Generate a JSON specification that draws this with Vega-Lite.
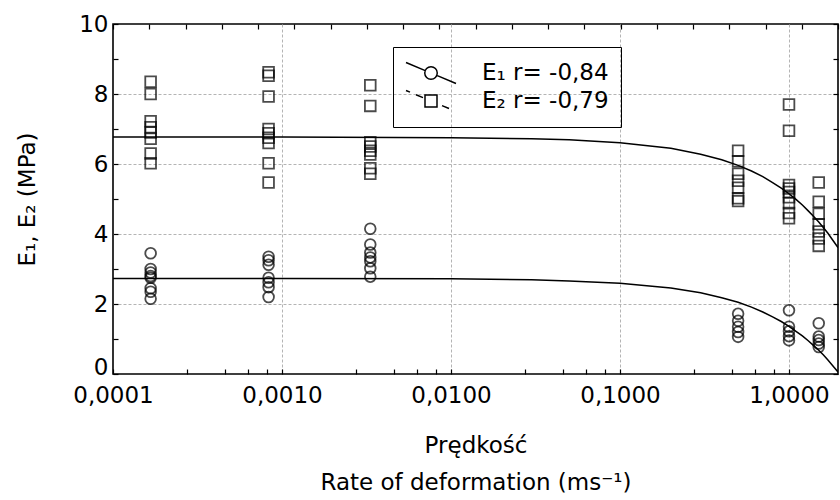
{
  "$schema": "https://vega.github.io/schema/vega-lite/v6.json",
  "width": 725,
  "height": 350,
  "autosize": "none",
  "padding": {"left": 113, "top": 24, "right": 2, "bottom": 126},
  "background": "white",
  "config": {
    "font": "DejaVu Sans",
    "view": {"stroke": "black", "strokeWidth": 1.6},
    "axis": {
      "domain": false,
      "tickColor": "black",
      "tickSize": 5,
      "tickWidth": 1.2,
      "labelColor": "black",
      "labelFont": "DejaVu Sans",
      "labelFontSize": 23,
      "labelOverlap": false,
      "labelFlush": false,
      "titleFont": "DejaVu Sans",
      "titleFontSize": 23,
      "titleFontWeight": "normal",
      "titleColor": "black",
      "gridColor": "#b4b4b4",
      "gridDash": [3, 2],
      "gridWidth": 1
    }
  },
  "datasets": {
    "fit": [
      {"x": 0.0001, "E": 2.73, "s": "E1"}, {"x": 0.001, "E": 2.73, "s": "E1"}, {"x": 0.01, "E": 2.72, "s": "E1"},
      {"x": 0.03, "E": 2.69, "s": "E1"}, {"x": 0.05, "E": 2.66, "s": "E1"}, {"x": 0.1, "E": 2.59, "s": "E1"},
      {"x": 0.2, "E": 2.46, "s": "E1"}, {"x": 0.3, "E": 2.32, "s": "E1"}, {"x": 0.4, "E": 2.18, "s": "E1"},
      {"x": 0.5, "E": 2.05, "s": "E1"}, {"x": 0.6, "E": 1.91, "s": "E1"}, {"x": 0.7, "E": 1.77, "s": "E1"},
      {"x": 0.8, "E": 1.63, "s": "E1"}, {"x": 0.9, "E": 1.5, "s": "E1"}, {"x": 1.0, "E": 1.36, "s": "E1"},
      {"x": 1.1, "E": 1.22, "s": "E1"}, {"x": 1.2, "E": 1.09, "s": "E1"}, {"x": 1.3, "E": 0.95, "s": "E1"},
      {"x": 1.4, "E": 0.81, "s": "E1"}, {"x": 1.5, "E": 0.68, "s": "E1"}, {"x": 1.6, "E": 0.54, "s": "E1"},
      {"x": 1.7, "E": 0.4, "s": "E1"}, {"x": 1.8, "E": 0.26, "s": "E1"}, {"x": 1.95, "E": 0.06, "s": "E1"},
      {"x": 0.0001, "E": 6.77, "s": "E2"}, {"x": 0.001, "E": 6.77, "s": "E2"}, {"x": 0.01, "E": 6.75, "s": "E2"},
      {"x": 0.03, "E": 6.72, "s": "E2"}, {"x": 0.05, "E": 6.69, "s": "E2"}, {"x": 0.1, "E": 6.61, "s": "E2"},
      {"x": 0.2, "E": 6.45, "s": "E2"}, {"x": 0.3, "E": 6.28, "s": "E2"}, {"x": 0.4, "E": 6.12, "s": "E2"},
      {"x": 0.5, "E": 5.96, "s": "E2"}, {"x": 0.6, "E": 5.8, "s": "E2"}, {"x": 0.7, "E": 5.64, "s": "E2"},
      {"x": 0.8, "E": 5.47, "s": "E2"}, {"x": 0.9, "E": 5.31, "s": "E2"}, {"x": 1.0, "E": 5.15, "s": "E2"},
      {"x": 1.1, "E": 4.99, "s": "E2"}, {"x": 1.2, "E": 4.83, "s": "E2"}, {"x": 1.3, "E": 4.66, "s": "E2"},
      {"x": 1.4, "E": 4.5, "s": "E2"}, {"x": 1.5, "E": 4.34, "s": "E2"}, {"x": 1.6, "E": 4.18, "s": "E2"},
      {"x": 1.7, "E": 4.02, "s": "E2"}, {"x": 1.8, "E": 3.85, "s": "E2"}, {"x": 1.95, "E": 3.61, "s": "E2"}
    ],
    "pts": [
      {"x": 0.000167, "E": 3.45, "s": "E1"}, {"x": 0.000167, "E": 3.0, "s": "E1"}, {"x": 0.000167, "E": 2.9, "s": "E1"},
      {"x": 0.000167, "E": 2.8, "s": "E1"}, {"x": 0.000167, "E": 2.75, "s": "E1"}, {"x": 0.000167, "E": 2.45, "s": "E1"},
      {"x": 0.000167, "E": 2.35, "s": "E1"}, {"x": 0.000167, "E": 2.15, "s": "E1"},
      {"x": 0.000833, "E": 3.35, "s": "E1"}, {"x": 0.000833, "E": 3.25, "s": "E1"}, {"x": 0.000833, "E": 3.12, "s": "E1"},
      {"x": 0.000833, "E": 2.75, "s": "E1"}, {"x": 0.000833, "E": 2.62, "s": "E1"}, {"x": 0.000833, "E": 2.48, "s": "E1"},
      {"x": 0.000833, "E": 2.2, "s": "E1"},
      {"x": 0.00333, "E": 4.15, "s": "E1"}, {"x": 0.00333, "E": 3.7, "s": "E1"}, {"x": 0.00333, "E": 3.47, "s": "E1"},
      {"x": 0.00333, "E": 3.33, "s": "E1"}, {"x": 0.00333, "E": 3.22, "s": "E1"}, {"x": 0.00333, "E": 3.02, "s": "E1"},
      {"x": 0.00333, "E": 2.78, "s": "E1"},
      {"x": 0.5, "E": 1.72, "s": "E1"}, {"x": 0.5, "E": 1.52, "s": "E1"}, {"x": 0.5, "E": 1.35, "s": "E1"},
      {"x": 0.5, "E": 1.2, "s": "E1"}, {"x": 0.5, "E": 1.06, "s": "E1"},
      {"x": 1.0, "E": 1.82, "s": "E1"}, {"x": 1.0, "E": 1.35, "s": "E1"}, {"x": 1.0, "E": 1.22, "s": "E1"},
      {"x": 1.0, "E": 1.08, "s": "E1"}, {"x": 1.0, "E": 0.96, "s": "E1"},
      {"x": 1.5, "E": 1.45, "s": "E1"}, {"x": 1.5, "E": 1.07, "s": "E1"}, {"x": 1.5, "E": 0.97, "s": "E1"},
      {"x": 1.5, "E": 0.87, "s": "E1"}, {"x": 1.5, "E": 0.77, "s": "E1"},
      {"x": 0.000167, "E": 8.35, "s": "E2"}, {"x": 0.000167, "E": 8.0, "s": "E2"}, {"x": 0.000167, "E": 7.22, "s": "E2"},
      {"x": 0.000167, "E": 7.05, "s": "E2"}, {"x": 0.000167, "E": 6.9, "s": "E2"}, {"x": 0.000167, "E": 6.72, "s": "E2"},
      {"x": 0.000167, "E": 6.3, "s": "E2"}, {"x": 0.000167, "E": 6.02, "s": "E2"},
      {"x": 0.000833, "E": 8.62, "s": "E2"}, {"x": 0.000833, "E": 8.52, "s": "E2"}, {"x": 0.000833, "E": 7.93, "s": "E2"},
      {"x": 0.000833, "E": 7.0, "s": "E2"}, {"x": 0.000833, "E": 6.88, "s": "E2"}, {"x": 0.000833, "E": 6.75, "s": "E2"},
      {"x": 0.000833, "E": 6.6, "s": "E2"}, {"x": 0.000833, "E": 6.02, "s": "E2"}, {"x": 0.000833, "E": 5.47, "s": "E2"},
      {"x": 0.00333, "E": 8.25, "s": "E2"}, {"x": 0.00333, "E": 7.66, "s": "E2"}, {"x": 0.00333, "E": 6.62, "s": "E2"},
      {"x": 0.00333, "E": 6.5, "s": "E2"}, {"x": 0.00333, "E": 6.38, "s": "E2"}, {"x": 0.00333, "E": 6.27, "s": "E2"},
      {"x": 0.00333, "E": 5.88, "s": "E2"}, {"x": 0.00333, "E": 5.72, "s": "E2"},
      {"x": 0.5, "E": 6.38, "s": "E2"}, {"x": 0.5, "E": 6.08, "s": "E2"}, {"x": 0.5, "E": 5.72, "s": "E2"},
      {"x": 0.5, "E": 5.52, "s": "E2"}, {"x": 0.5, "E": 5.32, "s": "E2"}, {"x": 0.5, "E": 5.02, "s": "E2"},
      {"x": 0.5, "E": 4.94, "s": "E2"},
      {"x": 1.0, "E": 7.7, "s": "E2"}, {"x": 1.0, "E": 6.95, "s": "E2"}, {"x": 1.0, "E": 5.4, "s": "E2"},
      {"x": 1.0, "E": 5.3, "s": "E2"}, {"x": 1.0, "E": 5.2, "s": "E2"}, {"x": 1.0, "E": 5.05, "s": "E2"},
      {"x": 1.0, "E": 4.88, "s": "E2"}, {"x": 1.0, "E": 4.6, "s": "E2"}, {"x": 1.0, "E": 4.45, "s": "E2"},
      {"x": 1.5, "E": 5.47, "s": "E2"}, {"x": 1.5, "E": 4.92, "s": "E2"}, {"x": 1.5, "E": 4.58, "s": "E2"},
      {"x": 1.5, "E": 4.28, "s": "E2"}, {"x": 1.5, "E": 4.07, "s": "E2"}, {"x": 1.5, "E": 3.87, "s": "E2"},
      {"x": 1.5, "E": 3.66, "s": "E2"}
    ]
  },
  "layer": [
    {
      "data": {"name": "fit"},
      "mark": {"type": "line", "color": "black", "strokeWidth": 1.5, "clip": true},
      "encoding": {
        "x": {
          "field": "x", "type": "quantitative",
          "scale": {"type": "log", "domain": [0.0001, 1.95], "nice": false},
          "axis": {"orient": "bottom", "values": [0.001, 0.01, 0.1, 1], "grid": true, "ticks": false, "labels": false, "title": null}
        },
        "y": {
          "field": "E", "type": "quantitative",
          "scale": {"domain": [0, 10], "nice": false},
          "axis": {"orient": "left", "values": [2, 4, 6, 8], "grid": true, "ticks": false, "labels": false, "title": null}
        },
        "detail": {"field": "s"}
      }
    },
    {
      "data": {"name": "pts"},
      "mark": {"type": "point", "filled": false, "color": "black", "strokeWidth": 1.8, "size": 115},
      "encoding": {
        "x": {
          "field": "x", "type": "quantitative",
          "axis": {
            "orient": "bottom",
            "offset": -5,
            "grid": false,
            "values": [0.0001, 0.000275, 0.00046, 0.00063, 0.00081, 0.001, 0.00275, 0.0046, 0.0063, 0.0081, 0.01, 0.0275, 0.046, 0.063, 0.081, 0.1, 0.275, 0.46, 0.63, 0.81, 1],
            "labelExpr": "indexof([0.0001, 0.001, 0.01, 0.1, 1], datum.value) >= 0 ? replace(format(datum.value, '.4f'), '.', ',') : ''",
            "labelPadding": 10,
            "title": ["Prędkość", "Rate of deformation (ms⁻¹)"],
            "titleLineHeight": 37,
            "titlePadding": 27
          }
        },
        "y": {
          "field": "E", "type": "quantitative",
          "axis": {
            "orient": "left",
            "offset": -5,
            "grid": false,
            "values": [0, 1, 2, 3, 4, 5, 6, 7, 8, 9, 10],
            "labelExpr": "datum.value % 2 == 0 ? datum.label : ''",
            "labelOffset": {"condition": {"test": "datum.value == 0", "value": -7}, "value": 0},
            "labelPadding": 5,
            "title": "E₁, E₂ (MPa)",
            "titlePadding": 39
          }
        },
        "shape": {"field": "s", "type": "nominal", "scale": {"domain": ["E1", "E2"], "range": ["circle", "square"]}, "legend": null}
      }
    },
    {
      "data": {"name": "pts"},
      "mark": {"type": "point", "opacity": 0, "color": "black"},
      "encoding": {
        "x": {
          "field": "x", "type": "quantitative",
          "axis": {
            "orient": "top",
            "offset": -5,
            "grid": false,
            "labels": false,
            "title": null,
            "values": [0.0001, 0.00016388, 0.00026857, 0.00044013, 0.00072129, 0.0011821, 0.0019372, 0.0031747, 0.0052027, 0.0085262, 0.013973, 0.022898, 0.037525, 0.061496, 0.10078, 0.16516, 0.27066, 0.44356, 0.72691, 1.1913, 1.9499]
          }
        },
        "y": {
          "field": "E", "type": "quantitative",
          "axis": {"orient": "right", "offset": -5, "values": [0, 1, 2, 3, 4, 5, 6, 7, 8, 9, 10], "labels": false, "grid": false, "title": null}
        },
        "shape": {
          "field": "s", "type": "nominal",
          "scale": {"domain": ["E1", "E2"], "range": [
            "M-1,-0.42L-0.229,-0.096M0.229,0.096L1,0.42M0.25,0A0.25,0.25,0,1,1,-0.25,0A0.25,0.25,0,1,1,0.25,0",
            "M-1,-0.42L-0.84,-0.353M-0.6,-0.252L-0.32,-0.134M0.44,0.185L0.72,0.302M-0.24,-0.24L0.24,-0.24L0.24,0.24L-0.24,0.24Z"
          ]},
          "legend": {
            "orient": "none",
            "legendX": 280,
            "legendY": 23,
            "title": null,
            "strokeColor": "black",
            "padding": 12,
            "symbolSize": 2500,
            "symbolStrokeWidth": 1.5,
            "symbolStrokeColor": "black",
            "symbolFillColor": "transparent",
            "symbolOpacity": 1,
            "labelFont": "DejaVu Sans",
            "labelFontSize": 23,
            "labelColor": "black",
            "labelOffset": 25,
            "labelLimit": 400,
            "clipHeight": 28,
            "rowPadding": 0,
            "labelExpr": "datum.value == 'E1' ? 'E₁ r= -0,84' : 'E₂ r= -0,79'"
          }
        }
      }
    }
  ],
  "resolve": {"scale": {"shape": "independent"}, "axis": {"x": "independent", "y": "independent"}}
}
